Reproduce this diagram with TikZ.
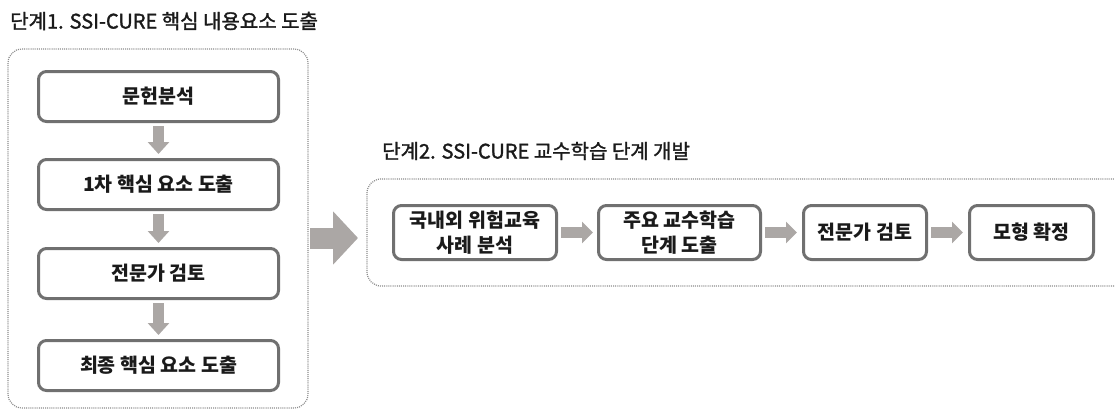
\documentclass[tikz,border=0pt]{standalone}
\usepackage{fontspec}
\newfontfamily\kr{Noto Sans CJK KR}
\newfontfamily\krm{Noto Sans CJK KR}[FakeBold=1.5]
\usetikzlibrary{arrows.meta}
\definecolor{boxline}{HTML}{707070}
\definecolor{arrgray}{HTML}{ABA7A5}
\definecolor{dotgray}{HTML}{8A8A8A}
\definecolor{txt}{HTML}{1A1A1A}
\tikzset{
  stepbox/.style={draw=boxline, line width=3pt, rounded corners=8pt, fill=white,
    inner sep=0pt, align=center, text=txt, font=\kr\bfseries\fontsize{19.5}{25}\selectfont},
  grp/.style={draw=dotgray, line width=1.2pt, dash pattern=on 1pt off 1.1pt, rounded corners=14pt},
  title/.style={anchor=west, inner sep=0pt, text=txt, font=\krm\fontsize{20}{24}\selectfont},
  varr/.style={draw=arrgray, line width=11pt, -{Triangle[width=21pt,length=12pt]}},
  harr/.style={draw=arrgray, line width=11pt, -{Triangle[width=21pt,length=11pt]}},
  barr/.style={draw=arrgray, line width=21pt, -{Triangle[width=52pt,length=25pt]}}
}
\begin{document}
\begin{tikzpicture}[x=1pt,y=-1pt]
\useasboundingbox (0,0) rectangle (1115,412);
% titles
\node[title] (t1) at (10,21) {단계1. SSI-CURE 핵심 내용요소 도출};
\node[title] (t2) at (382,151) {단계2. SSI-CURE 교수학습 단계 개발};
% group 1
\node[grp, minimum width=300pt, minimum height=359pt] (g1) at (158,228.5) {};
% group 2 (open at right)
\draw[grp] (1116,179) -- (367,179) -- (367,286) -- (1116,286);
\coordinate (bigA) at (308,238);
\coordinate (bigB) at (367,238);
% left boxes
\node[stepbox, minimum width=240pt, minimum height=50pt] (b1) at (158.5,96.5) {문헌분석};
\node[stepbox, minimum width=240pt, minimum height=50pt] (b2) at (158.5,184.5) {1차 핵심 요소 도출};
\node[stepbox, minimum width=240pt, minimum height=50pt] (b3) at (158.5,273.5) {전문가 검토};
\node[stepbox, minimum width=240pt, minimum height=50pt] (b4) at (158.5,365.5) {최종 핵심 요소 도출};
% right boxes
\node[stepbox, minimum width=163pt, minimum height=54pt] (r1) at (475,232.5) {국내외 위험교육\\사례 분석};
\node[stepbox, minimum width=162pt, minimum height=54pt] (r2) at (679.5,232.5) {주요 교수학습\\단계 도출};
\node[stepbox, minimum width=123pt, minimum height=54pt] (r3) at (865,232.5) {전문가 검토};
\node[stepbox, minimum width=124pt, minimum height=54pt] (r4) at (1031.5,232.5) {모형 확정};
% arrows
\draw[varr, shorten <=3pt, shorten >=4pt] (b1.south) -- (b2.north);
\draw[varr, shorten <=3pt, shorten >=4pt] (b2.south) -- (b3.north);
\draw[varr, shorten <=3pt, shorten >=4pt] (b3.south) -- (b4.north);
\draw[harr, shorten <=3pt, shorten >=4pt] (r1.east) -- (r2.west);
\draw[harr, shorten <=3pt, shorten >=5pt] (r2.east) -- (r3.west);
\draw[harr, shorten <=3pt, shorten >=5pt] (r3.east) -- (r4.west);
\draw[barr, shorten <=2pt, shorten >=9pt] (bigA) -- (bigB);
\end{tikzpicture}
\end{document}
